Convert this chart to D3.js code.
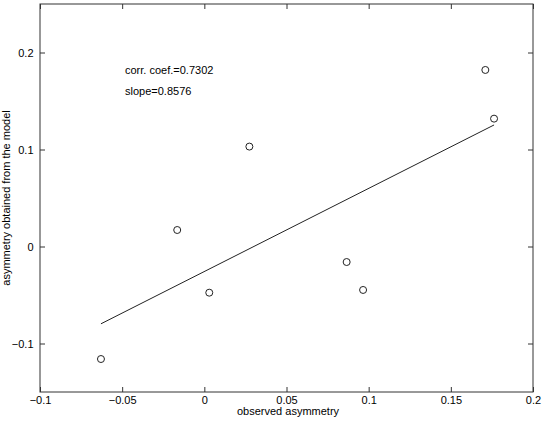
<!DOCTYPE html>
<html>
<head>
<meta charset="utf-8">
<script src="https://cdn.jsdelivr.net/npm/d3@7"></script>
<style>
  body { margin: 0; background: #fff; }
  svg { display: block; font-family: "Liberation Sans", Arial, sans-serif; }
</style>
</head>
<body>
<div id="chart"></div>
<script>
// observed vs model asymmetry
var observed = [-0.0629, -0.0165, 0.0030, 0.0274, 0.0866, 0.0966, 0.1710, 0.1763];
var modelled = [-0.1160, 0.0170, -0.0476, 0.1030, -0.0160, -0.0448, 0.1820, 0.1318];

// least squares line, endpoints at the smallest and largest observed value
var fitX = [-0.0629, 0.1763];
var fitY = [-0.0797, 0.1253];

var xTicks = [-0.1, -0.05, 0, 0.05, 0.1, 0.15, 0.2];
var xTickLabels = ["\u22120.1", "\u22120.05", "0", "0.05", "0.1", "0.15", "0.2"];
var yTicks = [-0.1, 0, 0.1, 0.2];
var yTickLabels = ["\u22120.1", "0", "0.1", "0.2"];

var notes = ["corr. coef.=0.7302", "slope=0.8576"];

var width = 545, height = 422;
var margin = {t:4, r:12, b:30, l:40};

var svg = d3.select("#chart")
    .append("svg")
    .attr("width", width)
    .attr("height", height);

var x = d3.scaleLinear().domain([-0.1, 0.2]).range([margin.l, width - margin.r]);
var y = d3.scaleLinear().domain([-0.15, 0.25]).range([height - margin.b, margin.t]);

var axisColor = "#333";

// box
svg.append("rect")
    .attr("x", x(-0.1))
    .attr("y", y(0.25))
    .attr("width", x(0.2) - x(-0.1))
    .attr("height", y(-0.15) - y(0.25))
    .style("fill", "none")
    .style("stroke", axisColor)
    .style("stroke-width", 1);

function styleAxis(g) {
    g.select(".domain").remove();
    g.selectAll(".tick line").style("stroke", axisColor);
    g.selectAll(".tick text")
        .style("fill", "#000")
        .style("font-size", "11px")
        .style("font-family", "'Liberation Sans', Arial, sans-serif");
}

// bottom and left axes with labels, ticks pointing in
svg.append("g")
    .attr("transform", "translate(0," + y(-0.15) + ")")
    .call(d3.axisBottom(x).tickValues(xTicks)
        .tickFormat(function(d, i){ return xTickLabels[i]; })
        .tickSizeInner(-5).tickSizeOuter(0).tickPadding(4.5))
    .call(styleAxis);

svg.append("g")
    .attr("transform", "translate(" + x(-0.1) + ",0)")
    .call(d3.axisLeft(y).tickValues(yTicks)
        .tickFormat(function(d, i){ return yTickLabels[i]; })
        .tickSizeInner(-5).tickSizeOuter(0).tickPadding(6.5))
    .call(styleAxis);

// mirrored ticks on top and right, no labels
svg.append("g")
    .attr("transform", "translate(0," + y(0.25) + ")")
    .call(d3.axisTop(x).tickValues(xTicks).tickFormat("")
        .tickSizeInner(-5).tickSizeOuter(0))
    .call(styleAxis);

svg.append("g")
    .attr("transform", "translate(" + x(0.2) + ",0)")
    .call(d3.axisRight(y).tickValues(yTicks).tickFormat("")
        .tickSizeInner(-5).tickSizeOuter(0))
    .call(styleAxis);

// fitted line
var fit = fitX.map(function(d, i){ return [d, fitY[i]]; });
svg.append("path")
    .datum(fit)
    .attr("d", d3.line().x(function(d){ return x(d[0]); }).y(function(d){ return y(d[1]); }))
    .style("fill", "none")
    .style("stroke", "#222")
    .style("stroke-width", 1);

// points
var pts = observed.map(function(d, i){ return {ox:d, my:modelled[i]}; });
svg.selectAll("circle.pt")
    .data(pts)
    .enter()
    .append("circle")
    .attr("class", "pt")
    .attr("cx", function(d){ return x(d.ox); })
    .attr("cy", function(d){ return y(d.my); })
    .attr("r", 3.5)
    .style("fill", "none")
    .style("stroke", "#222")
    .style("stroke-width", 1);

// annotations
svg.selectAll("text.note")
    .data(notes)
    .enter()
    .append("text")
    .attr("class", "note")
    .attr("x", 125)
    .attr("y", function(d, i){ return 73.5 + i * 21.5; })
    .style("font-size", "11px")
    .style("fill", "#000")
    .text(function(d){ return d; });

// axis titles
svg.append("text")
    .attr("x", 288)
    .attr("y", 415)
    .attr("text-anchor", "middle")
    .style("font-size", "11px")
    .style("fill", "#000")
    .text("observed asymmetry");

svg.append("text")
    .attr("transform", "translate(9.5," + (y(-0.15) + y(0.25)) / 2 + ") rotate(-90)")
    .attr("text-anchor", "middle")
    .style("font-size", "11px")
    .style("fill", "#000")
    .text("asymmetry obtained from the model");
</script>
</body>
</html>
